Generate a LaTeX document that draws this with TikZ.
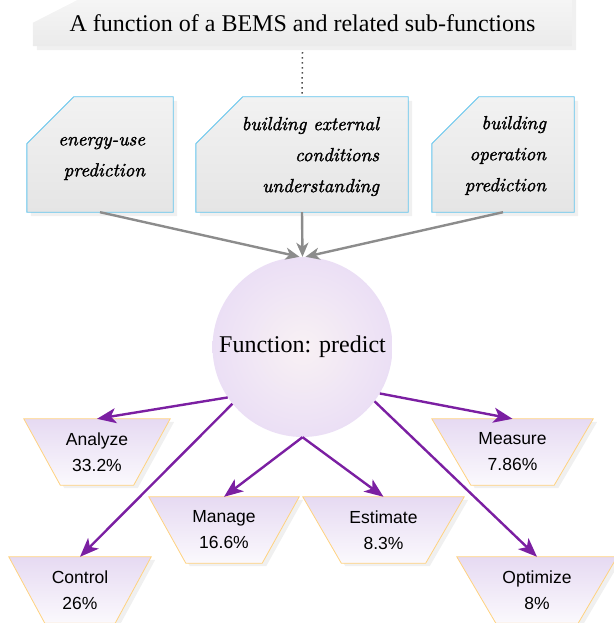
\documentclass[tikz,border=0pt]{standalone}
\usepackage{fontspec}
\newfontfamily\timesfont{Liberation Serif}
\newfontfamily\arialfont{Liberation Sans}
\newfontfamily\handfont[FakeBold=1.6]{lmroman10-italic.otf}
\usetikzlibrary{arrows.meta,backgrounds}

\definecolor{boxline}{HTML}{62C4EC}
\definecolor{boxtop}{HTML}{F2F2F2}
\definecolor{boxbot}{HTML}{E5E5E5}
\definecolor{bantop}{HTML}{F5F5F5}
\definecolor{banbot}{HTML}{EBEBEB}
\definecolor{trapline}{HTML}{FFD27F}
\definecolor{traptop}{HTML}{E6DAF2}
\definecolor{trapbot}{HTML}{FBF9FD}
\definecolor{circin}{HTML}{F8F1F4}
\definecolor{circout}{HTML}{EBDFF5}
\definecolor{purp}{HTML}{7B1FA2}
\definecolor{arrgray}{HTML}{8C8C8C}
\definecolor{shadowgray}{HTML}{F0F0F0}

% chamfered grey box behind a sub-function
\newcommand\chambox[1]{%
  \fill[shadowgray] ([xshift=4pt,yshift=-4pt]#1.south west) -- ([xshift=4pt,yshift=-51pt]#1.north west)
    -- ([xshift=51pt,yshift=-4pt]#1.north west) -- ([xshift=4pt,yshift=-4pt]#1.north east)
    -- ([xshift=4pt,yshift=-4pt]#1.south east) -- cycle;
  \shadedraw[top color=boxtop,bottom color=boxbot,draw=boxline,line width=0.9pt]
    (#1.south west) -- ([yshift=-47pt]#1.north west) -- ([xshift=47pt]#1.north west)
    -- (#1.north east) -- (#1.south east) -- cycle;}

% inverted trapezoid behind an action label (#2 = inset of the short side)
\newcommand\trapbox[2]{%
  \fill[shadowgray] ([xshift=4pt,yshift=-3pt]#1.north west) -- ([xshift=4pt,yshift=-3pt]#1.north east)
    -- ([xshift={(4-#2)*1pt},yshift=-3pt]#1.south east) -- ([xshift={(4+#2)*1pt},yshift=-3pt]#1.south west) -- cycle;
  \shadedraw[top color=traptop,bottom color=trapbot,draw=trapline,line width=0.8pt]
    (#1.north west) -- (#1.north east) -- ([xshift=-#2pt]#1.south east)
    -- ([xshift=#2pt]#1.south west) -- cycle;}

\begin{document}
\begin{tikzpicture}[x=1pt,y=-1pt,
  frame/.style={inner sep=0pt,minimum height=115pt},
  subtext/.style={anchor=east,align=right,inner sep=0pt,
    font=\handfont\fontsize{19}{31}\selectfont},
  action/.style={inner sep=0pt,minimum height=66pt,align=center,
    font=\arialfont\fontsize{17.5}{26}\selectfont},
  feed/.style={draw=arrgray,line width=2.4pt,-{Stealth[length=14pt,width=12pt,inset=4pt]}},
  role/.style={draw=purp,line width=2.4pt,-{Stealth[length=19pt,width=15pt,inset=5pt]}}]
\useasboundingbox (0,0) rectangle (613,623);

% title banner
\node[inner sep=0pt,minimum width=539pt,minimum height=46pt,
  font=\timesfont\fontsize{24}{28}\selectfont] (ban) at (302.5,23)
  {A function of a BEMS and related sub-functions};
\begin{pgfonlayer}{background}
\fill[shadowgray] ([xshift=4pt,yshift=-4pt]ban.south west) -- ([xshift=4pt,yshift=-27pt]ban.north west)
  -- ([xshift=49pt]ban.north west) -- ([xshift=4pt]ban.north east) -- ([xshift=4pt,yshift=-4pt]ban.south east) -- cycle;
\shade[top color=bantop,bottom color=banbot]
  (ban.south west) -- ([yshift=-23pt]ban.north west) -- ([xshift=45pt]ban.north west)
  -- (ban.north east) -- (ban.south east) -- cycle;
\end{pgfonlayer}

% sub-function boxes
\node[frame,minimum width=146pt] (b1) at (100,154.5) {};
\node[frame,minimum width=212pt] (b2) at (302,154.5) {};
\node[frame,minimum width=142pt] (b3) at (503,154.5) {};
\chambox{b1}\chambox{b2}\chambox{b3}
\node[subtext] (b1t) at ([xshift=-28pt,yshift=-4pt]b1.east) {energy-use\\prediction};
\node[subtext] (b2t) at ([xshift=-29pt,yshift=-2pt]b2.east) {building external\\conditions\\understanding};
\node[subtext] (b3t) at ([xshift=-28pt,yshift=-1pt]b3.east) {building\\operation\\prediction};

\draw[dash pattern=on 1.4pt off 3.6pt,line width=1.5pt,black!70] ([yshift=-6pt]ban.south) -- (b2.north);

% central function
\node[circle,minimum size=180pt,inner sep=0pt,inner color=circin,outer color=circout,
  font=\timesfont\fontsize{24}{28}\selectfont] (fn) at (302.5,347) {Function: predict};

% actions
\node[action,minimum width=146pt] (an) at (97,452)    {Analyze\\33.2\%};
\node[action,minimum width=142pt] (ct) at (80,590)    {Control\\26\%};
\node[action,minimum width=150pt] (mg) at (224,530)   {Manage\\16.6\%};
\node[action,minimum width=161pt] (es) at (383.5,530) {Estimate\\8.3\%};
\node[action,minimum width=161pt] (ms) at (512.5,452) {Measure\\7.86\%};
\node[action,minimum width=160pt] (op) at (537,590)   {Optimize\\8\%};
\begin{pgfonlayer}{background}
\trapbox{an}{36.5}\trapbox{ct}{36}\trapbox{mg}{37}
\trapbox{es}{38.5}\trapbox{ms}{39}\trapbox{op}{39}
\end{pgfonlayer}

% connectors
\draw[feed] (b1.south) -- ([xshift=-3pt]fn.north);
\draw[feed] (b2.south) -- (fn.north);
\draw[feed] (b3.south) -- ([xshift=3pt]fn.north);
\draw[role] (fn.214) -- (an.north);
\draw[role] (fn.219) -- (ct.north);
\draw[role] (fn.south) -- (mg.north);
\draw[role] (fn.south) -- (es.north);
\draw[role] (fn.-31) -- (ms.north);
\draw[role] (fn.-37) -- (op.north);
\end{tikzpicture}
\end{document}
